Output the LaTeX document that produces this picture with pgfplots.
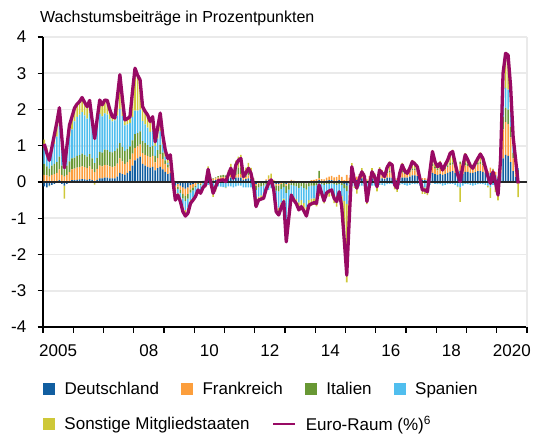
\documentclass[border=0pt]{standalone}
\usepackage{pgfplots}
\pgfplotsset{compat=1.18}
\usepackage{pgfplotstable}
\usepackage{fontspec}
\setmainfont{Liberation Sans}
\definecolor{cDE}{RGB}{17,94,160}
\definecolor{cFR}{RGB}{252,158,60}
\definecolor{cIT}{RGB}{104,152,52}
\definecolor{cES}{RGB}{80,190,238}
\definecolor{cOT}{RGB}{206,200,56}
\definecolor{cEU}{RGB}{152,10,100}
\definecolor{cgrid}{RGB}{234,234,234}

\pgfplotsset{
  common/.style={
    scale only axis, width=484pt, height=290pt,
    at={(43pt,107pt)}, anchor=south west,
    xmin=-0.5, xmax=191.5, ymin=-4, ymax=4,
    clip=false,
  },
  barsty/.style={
    ybar stacked, bar width=0.62,
    legend image code/.code={\fill[##1] (0pt,-6pt) rectangle (12pt,6pt);},
  },
  lineleg/.style={
    legend image code/.code={\draw[##1] (0pt,0pt) -- (22pt,0pt);},
  },
  legsty/.style={
    legend style={at={(0,0)}, anchor=west, yshift=#1,
      draw=none, fill=none, inner sep=0pt, outer sep=0pt,
      font=\fontsize{17}{20}\selectfont,
      /tikz/every odd column/.append style={column sep=7.5pt},
      /tikz/every even column/.append style={column sep=20pt}},
  },
}

\pgfplotstableread{
m DE FR IT ES OT EU
0 -0.12 0.20 0.30 0.45 0.22 1.05
1 -0.15 0.18 0.25 0.40 0.12 0.80
2 -0.10 0.15 0.22 0.35 -0.02 0.60
3 -0.08 0.20 0.25 0.45 0.13 0.95
4 -0.05 0.22 0.28 0.55 0.30 1.30
5 0.00 0.25 0.30 0.70 0.40 1.65
6 0.05 0.30 0.35 0.85 0.50 2.05
7 -0.05 0.20 0.25 0.60 0.20 1.20
8 -0.10 0.15 0.20 0.50 -0.36 0.39
9 -0.05 0.20 0.25 0.50 0.10 1.00
10 0.02 0.25 0.30 0.70 0.30 1.57
11 0.05 0.30 0.30 0.80 0.35 1.80
12 0.05 0.32 0.30 1.00 0.37 2.04
13 0.06 0.34 0.32 1.08 0.35 2.15
14 0.07 0.34 0.33 1.12 0.36 2.22
15 0.08 0.35 0.35 1.15 0.40 2.33
16 0.07 0.34 0.33 1.10 0.36 2.20
17 0.06 0.32 0.32 1.05 0.33 2.08
18 0.08 0.35 0.34 1.12 0.36 2.25
19 0.05 0.30 0.30 0.90 0.15 1.70
20 0.02 0.25 0.25 0.75 -0.07 1.20
21 0.06 0.30 0.30 0.90 0.19 1.75
22 0.10 0.35 0.38 1.05 0.38 2.26
23 0.10 0.33 0.38 1.00 0.32 2.13
24 0.12 0.35 0.42 1.00 0.37 2.26
25 0.12 0.34 0.42 0.98 0.39 2.25
26 0.10 0.33 0.40 0.90 0.27 2.00
27 0.10 0.32 0.40 0.85 0.13 1.80
28 0.10 0.33 0.42 0.85 0.07 1.77
29 0.15 0.36 0.42 0.90 0.52 2.35
30 0.25 0.40 0.42 0.95 0.94 2.96
31 0.22 0.35 0.40 0.85 0.48 2.30
32 0.20 0.30 0.36 0.70 0.15 1.71
33 0.25 0.30 0.36 0.68 0.16 1.75
34 0.30 0.32 0.36 0.65 0.17 1.80
35 0.45 0.33 0.37 0.65 0.70 2.50
36 0.60 0.34 0.38 0.65 1.17 3.14
37 0.65 0.33 0.37 0.62 0.98 2.95
38 0.70 0.33 0.37 0.60 0.82 2.82
39 0.50 0.30 0.33 0.55 0.40 2.08
40 0.45 0.30 0.32 0.52 0.36 1.95
41 0.42 0.30 0.30 0.48 0.35 1.85
42 0.40 0.28 0.28 0.42 0.29 1.67
43 0.42 0.30 0.28 0.42 0.38 1.80
44 0.32 0.22 0.18 0.28 0.11 1.11
45 0.38 0.28 0.22 0.32 0.30 1.50
46 0.42 0.35 0.25 0.38 0.50 1.90
47 0.35 0.28 0.18 0.22 0.27 1.30
48 0.28 0.22 0.10 0.10 0.18 0.88
49 0.22 0.18 0.08 0.05 0.12 0.65
50 0.25 0.20 0.08 0.05 0.17 0.75
51 0.05 0.05 -0.02 -0.08 0.05 0.05
52 -0.10 -0.10 -0.08 -0.15 -0.07 -0.50
53 -0.05 -0.08 -0.06 -0.12 -0.05 -0.36
54 -0.10 -0.12 -0.08 -0.16 -0.08 -0.54
55 -0.15 -0.18 -0.12 -0.22 -0.15 -0.82
56 -0.18 -0.20 -0.14 -0.25 -0.17 -0.94
57 -0.15 -0.18 -0.13 -0.25 -0.15 -0.86
58 -0.08 -0.12 -0.09 -0.20 -0.10 -0.59
59 -0.05 -0.10 -0.08 -0.20 -0.07 -0.50
60 -0.02 -0.08 -0.05 -0.18 -0.07 -0.40
61 0.02 -0.03 -0.03 -0.15 -0.03 -0.22
62 0.00 -0.05 -0.04 -0.15 -0.07 -0.31
63 0.03 0.00 -0.02 -0.12 -0.04 -0.15
64 0.05 0.02 0.00 -0.12 -0.03 -0.08
65 0.10 0.08 0.05 -0.08 0.20 0.35
66 0.06 0.05 0.02 -0.10 -0.03 0.00
67 0.04 0.04 0.02 -0.12 -0.29 -0.31
68 0.05 0.05 0.03 -0.12 -0.14 -0.13
69 0.06 0.06 0.04 -0.12 0.00 0.04
70 0.07 0.06 0.05 -0.13 0.00 0.05
71 0.08 0.06 0.05 -0.14 0.01 0.06
72 0.08 0.05 0.05 -0.15 -0.02 0.01
73 0.10 0.06 0.08 -0.12 0.08 0.20
74 0.12 0.08 0.12 -0.12 0.18 0.38
75 0.08 0.05 0.08 -0.15 0.04 0.10
76 0.12 0.08 0.15 -0.12 0.24 0.47
77 0.12 0.10 0.18 -0.10 0.30 0.60
78 0.12 0.10 0.18 -0.10 0.35 0.65
79 0.06 0.05 0.10 -0.15 0.09 0.15
80 0.08 0.06 0.12 -0.15 0.14 0.25
81 0.10 0.08 0.15 -0.15 0.20 0.38
82 0.08 0.06 0.10 -0.15 0.15 0.24
83 0.04 0.03 0.02 -0.18 0.01 -0.08
84 -0.05 -0.05 -0.12 -0.28 -0.18 -0.68
85 -0.02 -0.03 -0.10 -0.25 -0.10 -0.50
86 0.00 -0.02 -0.10 -0.25 -0.10 -0.47
87 0.02 0.00 -0.10 -0.25 -0.12 -0.45
88 0.04 0.03 -0.06 -0.20 -0.01 -0.20
89 0.05 0.04 -0.04 -0.18 0.09 -0.04
90 0.05 0.05 -0.02 -0.15 0.13 0.06
91 0.03 0.02 -0.06 -0.20 0.01 -0.20
92 -0.05 -0.04 -0.15 -0.40 -0.18 -0.82
93 -0.05 -0.05 -0.16 -0.45 -0.20 -0.91
94 -0.02 -0.03 -0.14 -0.38 -0.13 -0.70
95 0.00 -0.02 -0.12 -0.32 -0.08 -0.54
96 -0.05 -0.05 -0.20 -1.00 -0.35 -1.65
97 -0.03 -0.03 -0.15 -0.55 -0.24 -1.00
98 0.03 0.03 -0.08 -0.30 -0.04 -0.36
99 0.02 0.02 -0.10 -0.32 -0.12 -0.50
100 0.00 0.01 -0.12 -0.35 -0.14 -0.60
101 -0.02 0.00 -0.14 -0.40 -0.21 -0.77
102 0.00 0.02 -0.12 -0.38 -0.20 -0.68
103 -0.02 0.00 -0.14 -0.42 -0.22 -0.80
104 -0.04 -0.02 -0.15 -0.48 -0.25 -0.94
105 0.00 0.02 -0.12 -0.38 -0.16 -0.64
106 0.02 0.03 -0.10 -0.36 -0.19 -0.60
107 0.02 0.04 -0.10 -0.35 -0.18 -0.57
108 0.03 0.05 -0.08 -0.35 -0.24 -0.59
109 0.05 0.06 0.20 -0.25 -0.14 -0.08
110 0.03 0.05 -0.05 -0.25 -0.08 -0.30
111 0.02 0.05 -0.08 -0.30 -0.21 -0.52
112 0.04 0.08 -0.05 -0.25 -0.12 -0.30
113 0.05 0.10 -0.05 -0.25 -0.10 -0.25
114 0.05 0.12 -0.04 -0.25 -0.10 -0.22
115 0.03 0.10 -0.06 -0.30 -0.22 -0.45
116 0.02 0.12 -0.08 -0.30 -0.30 -0.54
117 0.05 0.15 -0.05 -0.25 -0.17 -0.27
118 0.02 0.12 -0.08 -0.30 -0.44 -0.68
119 -0.05 0.05 -0.12 -0.35 -1.13 -1.60
120 -0.10 0.20 -0.15 -0.35 -2.17 -2.57
121 0.00 0.12 -0.05 -0.25 -0.82 -1.00
122 0.10 0.15 0.05 -0.10 0.22 0.42
123 0.08 0.12 0.02 -0.12 -0.04 0.06
124 0.05 0.10 0.00 -0.15 -0.17 -0.17
125 0.08 0.12 0.02 -0.12 0.00 0.10
126 0.10 0.15 0.03 -0.10 0.10 0.28
127 0.08 0.12 0.02 -0.10 0.03 0.15
128 0.02 0.05 -0.03 -0.15 -0.43 -0.54
129 0.06 0.10 0.00 -0.12 -0.14 -0.10
130 0.10 0.15 0.03 -0.10 0.10 0.28
131 0.08 0.12 0.02 -0.10 0.03 0.15
132 0.05 0.08 0.00 -0.12 -0.14 -0.13
133 0.10 0.12 0.03 -0.08 0.16 0.33
134 0.10 0.12 0.03 -0.08 0.08 0.25
135 0.08 0.10 0.02 -0.10 0.05 0.15
136 0.12 0.12 0.04 -0.06 0.18 0.40
137 0.12 0.14 0.05 -0.05 0.26 0.52
138 0.12 0.14 0.04 -0.05 0.22 0.47
139 0.06 0.06 0.00 -0.12 -0.08 -0.08
140 0.05 0.05 0.00 -0.15 -0.12 -0.17
141 0.10 0.10 0.03 -0.08 0.09 0.24
142 0.12 0.14 0.04 -0.06 0.23 0.47
143 0.12 0.10 0.03 -0.08 0.13 0.30
144 0.12 0.10 0.03 -0.10 0.09 0.24
145 0.15 0.12 0.04 -0.08 0.15 0.38
146 0.18 0.14 0.05 -0.05 0.24 0.56
147 0.18 0.14 0.05 -0.06 0.19 0.50
148 0.16 0.12 0.04 -0.06 0.16 0.42
149 0.10 0.08 0.02 -0.10 0.00 0.10
150 0.06 0.05 0.00 -0.15 -0.18 -0.22
151 0.06 0.05 0.00 -0.15 -0.18 -0.22
152 0.05 0.04 -0.01 -0.15 -0.20 -0.27
153 0.15 0.10 0.03 -0.08 0.10 0.30
154 0.25 0.18 0.06 -0.03 0.38 0.84
155 0.22 0.15 0.05 -0.05 0.19 0.56
156 0.20 0.12 0.04 -0.06 0.12 0.42
157 0.22 0.14 0.05 -0.06 0.17 0.52
158 0.20 0.12 0.03 -0.10 0.08 0.33
159 0.22 0.14 0.04 -0.08 0.15 0.47
160 0.25 0.16 0.05 -0.06 0.20 0.60
161 0.28 0.18 0.06 -0.05 0.32 0.79
162 0.30 0.18 0.06 -0.05 0.35 0.84
163 0.25 0.15 0.04 -0.08 0.16 0.52
164 0.20 0.12 0.02 -0.12 -0.02 0.20
165 0.30 0.20 0.06 -0.15 -0.40 0.01
166 0.22 0.14 0.04 -0.10 0.12 0.42
167 0.28 0.18 0.06 -0.05 0.28 0.75
168 0.28 0.16 0.05 -0.06 0.18 0.61
169 0.25 0.14 0.04 -0.08 0.10 0.45
170 0.25 0.14 0.03 -0.10 0.06 0.38
171 0.27 0.16 0.04 -0.08 0.13 0.52
172 0.30 0.18 0.05 -0.06 0.18 0.65
173 0.30 0.20 0.05 -0.05 0.27 0.77
174 0.28 0.18 0.04 -0.06 0.21 0.65
175 0.25 0.14 0.03 -0.08 0.06 0.40
176 0.20 0.10 0.00 -0.10 -0.05 0.15
177 0.25 0.15 -0.03 -0.12 -0.29 -0.04
178 0.22 0.12 0.02 -0.08 0.00 0.28
179 0.18 0.10 0.00 -0.10 -0.18 0.00
180 0.10 0.05 -0.05 -0.12 -0.34 -0.36
181 0.25 0.15 0.05 0.02 0.14 0.61
182 0.65 0.80 0.35 0.45 0.75 3.00
183 0.75 0.90 0.40 0.55 0.95 3.55
184 0.72 0.88 0.40 0.55 0.95 3.50
185 0.55 0.68 0.30 0.45 0.65 2.63
186 0.30 0.35 0.15 0.20 0.25 1.25
187 0.15 0.15 0.05 0.06 0.20 0.61
188 0.10 0.08 0.15 0.05 -0.42 -0.04
}\datatable

\begin{document}
\begin{tikzpicture}
\useasboundingbox (0,0) rectangle (535pt,434pt);
% positive contributions, axes, grid
\begin{axis}[common, barsty, legsty=-62pt, legend columns=4,
  axis x line=bottom, axis y line=left,
  axis line style={-, black, line width=1.3pt},
  tick align=outside, major tick length=5.5pt,
  tick style={black, line width=1.2pt},
  ymajorgrids, major grid style={cgrid, line width=1.8pt},
  ytick={-4,-3,-2,-1,0,1,2,3,4},
  yticklabels={-4,-3,-2,-1,0,1,2,3,4},
  xtick={-0.5,11.5,...,191.5}, xticklabels={},
  extra x ticks={5.5,41.5,65.5,89.5,113.5,137.5,161.5,185.5},
  extra x tick labels={2005,08,10,12,14,16,18,2020},
  extra x tick style={major tick length=0pt, grid=none},
  tick label style={font=\fontsize{17}{20}\selectfont},
  yticklabel style={anchor=east, inner sep=0pt, xshift=-11pt},
  xticklabel style={anchor=base, inner sep=0pt, yshift=-29pt},
]
\draw[cgrid, line width=1.8pt] (rel axis cs:1,0) -- (rel axis cs:1,1);
\addplot[fill=cDE, draw=none] table[x=m, y expr={max(\thisrow{DE},0)}] {\datatable};
\addlegendentry{Deutschland}
\addplot[fill=cFR, draw=none] table[x=m, y expr={max(\thisrow{FR},0)}] {\datatable};
\addlegendentry{Frankreich}
\addplot[fill=cIT, draw=none] table[x=m, y expr={max(\thisrow{IT},0)}] {\datatable};
\addlegendentry{Italien}
\addplot[fill=cES, draw=none] table[x=m, y expr={max(\thisrow{ES},0)}] {\datatable};
\addlegendentry{Spanien}
\addplot[fill=cOT, draw=none, forget plot] table[x=m, y expr={max(\thisrow{OT},0)}] {\datatable};
\end{axis}
% negative contributions
\begin{axis}[common, barsty, hide axis, legsty=-97pt, legend columns=2]
\addplot[fill=cDE, draw=none, forget plot] table[x=m, y expr={min(\thisrow{DE},0)}] {\datatable};
\addplot[fill=cFR, draw=none, forget plot] table[x=m, y expr={min(\thisrow{FR},0)}] {\datatable};
\addplot[fill=cIT, draw=none, forget plot] table[x=m, y expr={min(\thisrow{IT},0)}] {\datatable};
\addplot[fill=cES, draw=none, forget plot] table[x=m, y expr={min(\thisrow{ES},0)}] {\datatable};
\addplot[fill=cOT, draw=none] table[x=m, y expr={min(\thisrow{OT},0)}] {\datatable};
\addlegendentry{Sonstige Mitgliedstaaten}
\addlegendimage{cEU, line width=2.6pt, lineleg}
\addlegendentry{Euro-Raum (\%)\textsuperscript{6}}
\end{axis}
% zero line and euro area line
\begin{axis}[common, hide axis]
\draw[black!85, line width=1.4pt] (axis cs:-0.5,0) -- (axis cs:191.5,0);
\addplot[cEU, line width=3.3pt, line join=round, mark=none] table[x=m, y=EU] {\datatable};
\end{axis}
\node[anchor=base west, inner sep=0pt, font=\fontsize{16}{19}\selectfont] at (40pt,411pt) {Wachstumsbeiträge in Prozentpunkten};
\end{tikzpicture}
\end{document}
